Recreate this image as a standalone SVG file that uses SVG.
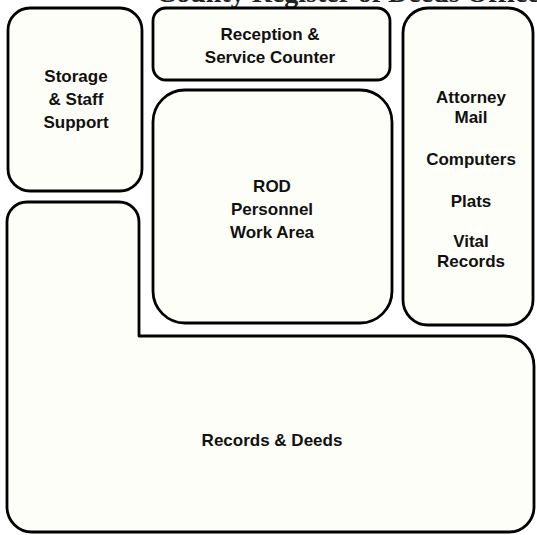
<svg xmlns="http://www.w3.org/2000/svg" width="537" height="535" viewBox="0 0 537 535">
  <style>
    .room { fill: #fefef8; stroke: #000; stroke-width: 2.8; stroke-linejoin: round; }
    .lbl { font-family: "Liberation Sans", Arial, sans-serif; font-weight: bold; font-size: 17px; fill: #111; text-anchor: middle; }
    .title { font-family: "Liberation Serif", "Times New Roman", serif; font-weight: bold; font-size: 28px; fill: #222; }
  </style>
  <rect x="0" y="0" width="537" height="535" fill="#ffffff"/>
  <text class="title" x="156" y="2">County Register of Deeds Office</text>

  <g id="storage">
    <rect class="room" x="8" y="8" width="134" height="183" rx="22" ry="22"/>
    <text class="lbl" x="76" y="82">Storage</text>
    <text class="lbl" x="76" y="105">&amp; Staff</text>
    <text class="lbl" x="76" y="128">Support</text>
  </g>

  <g id="reception">
    <rect class="room" x="153" y="8" width="237" height="72" rx="13" ry="13"/>
    <text class="lbl" x="270" y="40">Reception &amp;</text>
    <text class="lbl" x="270" y="63">Service Counter</text>
  </g>

  <g id="rod">
    <rect class="room" x="153" y="90" width="239" height="233" rx="32" ry="32"/>
    <text class="lbl" x="272" y="192">ROD</text>
    <text class="lbl" x="272" y="215">Personnel</text>
    <text class="lbl" x="272" y="238">Work Area</text>
  </g>

  <g id="attorney">
    <rect class="room" x="403" y="8" width="130" height="317" rx="25" ry="25"/>
    <text class="lbl" x="471" y="103">Attorney</text>
    <text class="lbl" x="471" y="123">Mail</text>
    <text class="lbl" x="471" y="165">Computers</text>
    <text class="lbl" x="471" y="207">Plats</text>
    <text class="lbl" x="471" y="247">Vital</text>
    <text class="lbl" x="471" y="267">Records</text>
  </g>

  <g id="records">
    <path class="room" d="M 7 222 A 20 20 0 0 1 27 202 L 119 202 A 20 20 0 0 1 139 222 L 139 336 L 504 336 A 30 30 0 0 1 534 366 L 534 507 A 25 25 0 0 1 509 532 L 32 532 A 25 25 0 0 1 7 507 Z"/>
    <text class="lbl" x="272" y="446">Records &amp; Deeds</text>
  </g>

  <g id="connectors"></g>
</svg>
